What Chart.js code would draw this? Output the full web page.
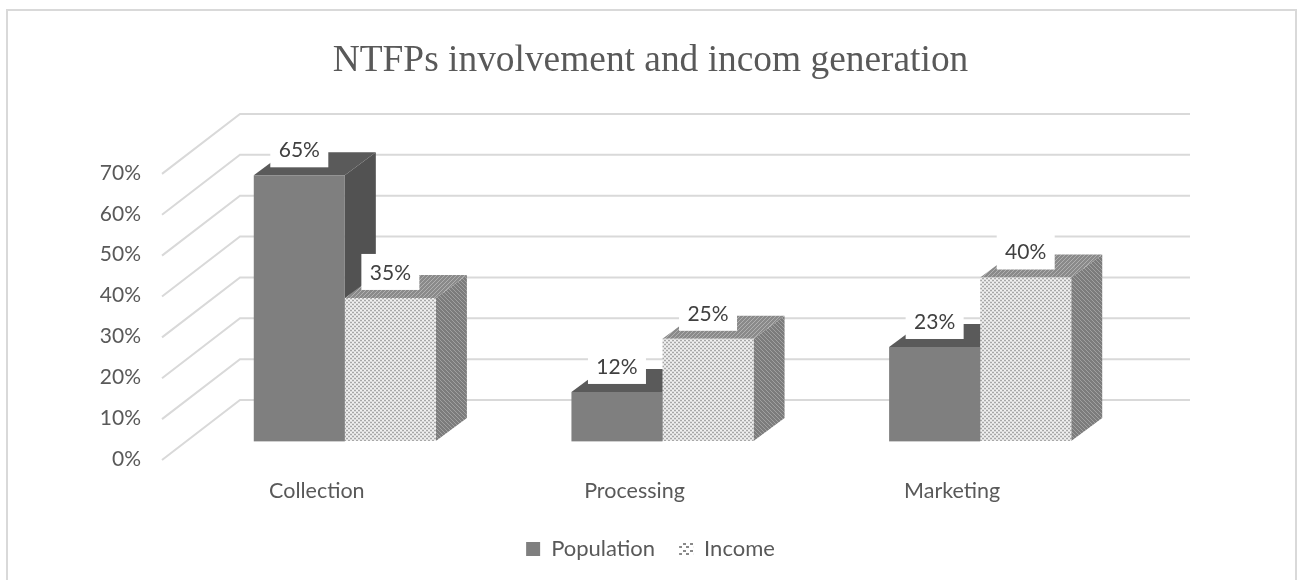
<!DOCTYPE html>
<html>
<head>
<meta charset="utf-8">
<style>html,body{margin:0;padding:0;background:#fff}canvas{display:block}</style>
<script src="https://cdn.jsdelivr.net/npm/chart.js@4"></script>
</head>
<body>
<div style="width:1301px;height:580px"><canvas id="c" width="1301" height="580"></canvas></div>
<script>
const categories = ["Collection", "Processing", "Marketing"];
const populationValues = [65, 12, 23];
const incomeValues = [35, 25, 40];
const yTicks = [0, 10, 20, 30, 40, 50, 60, 70];

function tile(w, h, draw) {
  const t = document.createElement('canvas');
  t.width = w; t.height = h;
  draw(t.getContext('2d'));
  return document.getElementById('c').getContext('2d').createPattern(t, 'repeat');
}
const frontPattern = tile(4, 4, g => {
  g.fillStyle = '#dcdcdc'; g.fillRect(0, 0, 4, 4);
  g.fillStyle = '#a8a8a8'; g.fillRect(0, 0, 2, 1); g.fillRect(2, 2, 2, 1);
  g.fillStyle = '#f2f2f2'; g.fillRect(2, 0, 2, 1); g.fillRect(0, 2, 2, 1);
});
const sidePattern = tile(4, 4, g => {
  g.fillStyle = '#7c7c7c'; g.fillRect(0, 0, 4, 4);
  g.fillStyle = '#a0a0a0';
  [[0,0],[1,1],[2,2],[3,3]].forEach(p => g.fillRect(p[0], p[1], 1, 1));
});
const topPattern = tile(4, 4, g => {
  g.fillStyle = '#8a8a8a'; g.fillRect(0, 0, 4, 4);
  g.fillStyle = '#b0b0b0';
  [[3,0],[2,1],[1,2],[0,3]].forEach(p => g.fillRect(p[0], p[1], 1, 1));
});
const legendPattern = tile(7, 7, g => {
  g.fillStyle = '#ffffff'; g.fillRect(0, 0, 7, 7);
  g.fillStyle = '#8a8a8a'; g.fillRect(0, 0, 3, 2); g.fillRect(4, 4, 3, 2);
});

const depthX = 31, depthY = 23;

const scene3d = {
  id: 'scene3d',
  beforeDatasetsDraw(chart) {
    const g = chart.ctx, y = chart.scales.y;
    g.save();
    // outer frame
    g.strokeStyle = '#d9d9d9'; g.lineWidth = 2;
    g.beginPath(); g.moveTo(7, 600); g.lineTo(7, 10); g.lineTo(1296, 10); g.lineTo(1296, 600); g.stroke();
    // walls
    g.strokeStyle = '#d9d9d9'; g.lineWidth = 2;
    yTicks.forEach(v => {
      const p = y.getPixelForValue(v);
      g.beginPath();
      g.moveTo(162, p + 19); g.lineTo(240, p - 41); g.lineTo(1190, p - 41);
      g.stroke();
    });
    // top and side faces
    [[0, '#5a5a5a', '#525252'], [1, topPattern, sidePattern]].forEach(([ds, topFill, sideFill]) => {
      chart.getDatasetMeta(ds).data.forEach(b => {
        const l = b.x - b.width / 2, r = b.x + b.width / 2, t = b.y, base = b.base;
        g.fillStyle = sideFill;
        g.beginPath();
        g.moveTo(r, t); g.lineTo(r + depthX, t - depthY); g.lineTo(r + depthX, base - depthY); g.lineTo(r, base);
        g.closePath(); g.fill();
        g.fillStyle = topFill;
        g.beginPath();
        g.moveTo(l, t); g.lineTo(l + depthX, t - depthY); g.lineTo(r + depthX, t - depthY); g.lineTo(r, t);
        g.closePath(); g.fill();
      });
    });
    g.restore();
  },
  afterDatasetsDraw(chart) {
    const g = chart.ctx;
    g.save();
    // faint lower edge of the front faces
    g.strokeStyle = '#cfcfcf'; g.lineWidth = 1;
    chart.getDatasetMeta(0).data.forEach(b => {
      g.beginPath();
      g.moveTo(b.x - b.width / 2, b.base + 0.5);
      g.lineTo(b.x + b.width / 2, b.base + 0.5);
      g.stroke();
    });
    g.font = '21px Lato';
    g.textAlign = 'center'; g.textBaseline = 'middle';
    chart.data.datasets.forEach((d, ds) => {
      chart.getDatasetMeta(ds).data.forEach((b, i) => {
        const cy = b.y - 25;
        g.fillStyle = '#ffffff';
        g.fillRect(b.x - 29, cy - 19, 58, 36);
        g.fillStyle = '#404040';
        g.fillText(d.data[i] + '%', b.x, cy);
      });
    });
    g.restore();
  }
};

new Chart(document.getElementById('c'), {
  type: 'bar',
  data: {
    labels: categories,
    datasets: [
      { label: 'Population', data: populationValues, backgroundColor: '#7f7f7f' },
      { label: 'Income', data: incomeValues, backgroundColor: frontPattern }
    ]
  },
  options: {
    responsive: false,
    animation: false,
    events: [],
    layout: { padding: { left: 0, right: 0, top: 0, bottom: 10 } },
    datasets: { bar: { categoryPercentage: 0.5733, barPercentage: 1 } },
    scales: {
      x: {
        grid: { display: false },
        border: { display: false },
        ticks: {
          font: { family: 'Lato', size: 21.5 }, color: '#595959',
          labelOffset: -28, padding: 29, maxRotation: 0, autoSkip: false
        },
        afterFit(s) { s.height = 73; }
      },
      y: {
        min: 0, max: 70,
        grid: { display: false },
        border: { display: false },
        ticks: {
          font: { family: 'Lato', size: 21 }, color: '#595959',
          stepSize: 10, padding: 37, labelOffset: 18,
          callback: v => v + '%'
        },
        afterFit(s) { s.width = 186; }
      },
      rightGutter: {
        position: 'right',
        grid: { display: false },
        border: { display: false },
        ticks: { display: false },
        afterFit(s) { s.width = 162; }
      }
    },
    plugins: {
      tooltip: { enabled: false },
      title: {
        display: true,
        text: 'NTFPs involvement and incom generation',
        font: { family: 'Liberation Serif', size: 37.4, weight: 'normal', lineHeight: 1.2 },
        color: '#595959',
        padding: { top: 39, bottom: 71 }
      },
      legend: {
        position: 'bottom',
        labels: {
          font: { family: 'Lato', size: 22 }, color: '#595959',
          boxWidth: 14, boxHeight: 14, padding: 24,
          generateLabels(chart) {
            return chart.data.datasets.map((d, i) => ({
              text: d.label,
              fontColor: '#595959',
              fillStyle: i === 1 ? legendPattern : d.backgroundColor,
              strokeStyle: 'rgba(0,0,0,0)', lineWidth: 0,
              datasetIndex: i, hidden: false
            }));
          }
        }
      }
    }
  },
  plugins: [scene3d]
});
</script>
</body>
</html>
